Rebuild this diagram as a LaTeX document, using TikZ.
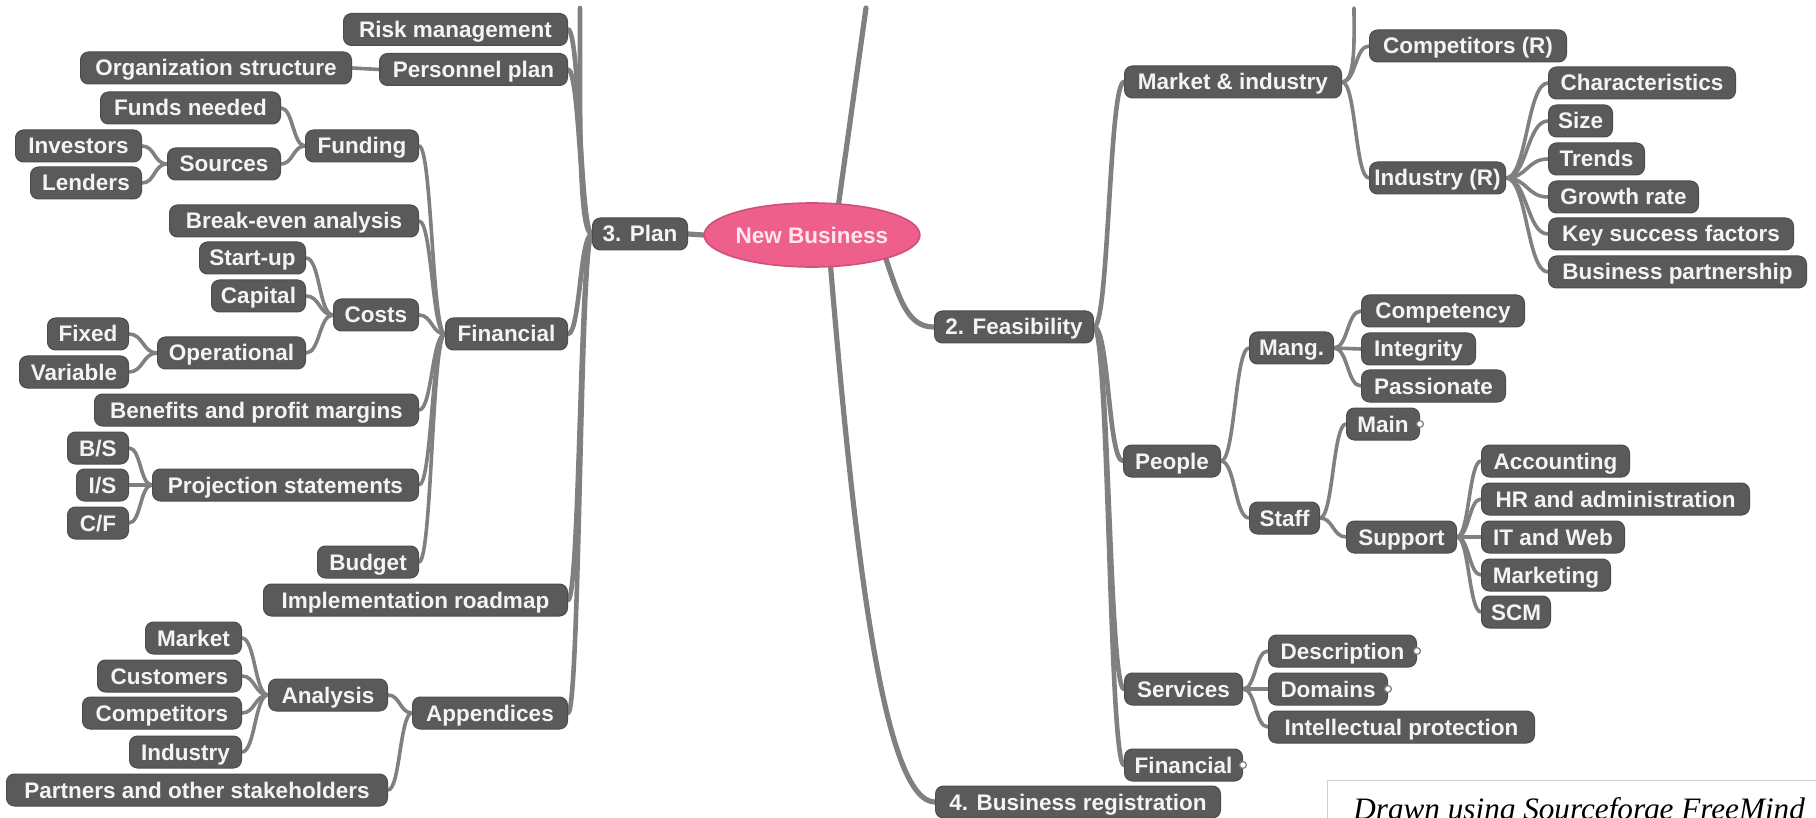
\documentclass[tikz,border=0pt]{standalone}
\usepackage{fontspec}
\setmainfont{Liberation Sans}
\newfontfamily\wmfont{Liberation Serif}
\usetikzlibrary{backgrounds,shapes.geometric}
\definecolor{boxfill}{HTML}{5A5A5A}
\definecolor{boxline}{HTML}{4C4C4C}
\definecolor{edgecol}{HTML}{808080}
\definecolor{rootfill}{HTML}{EE5F8C}
\definecolor{rootline}{HTML}{CF5079}
\definecolor{roottext}{HTML}{FDE6EF}
\definecolor{txt}{HTML}{F4F4F4}
\definecolor{wmline}{HTML}{D0D0D0}
\tikzset{
 mbox/.style={draw=boxline, line width=0.5pt, fill=boxfill, rounded corners=4pt, text=txt,
   font=\bfseries\fontsize{11.25}{13}\selectfont, minimum height=16pt, inner xsep=2pt,
   inner ysep=0pt, text height=10pt, text depth=2pt},
 lbox/.style={mbox, anchor=east},
 rbox/.style={mbox, anchor=west},
 edge/.style={draw=edgecol, line width=1.8pt, line cap=round},
 edgeA/.style={edge, line width=2.3pt},
 edgeR/.style={edge, line width=2.6pt},
 fold/.style={circle, draw=edgecol, fill=white, line width=0.6pt, inner sep=0pt, minimum size=3.4pt},
}
\newcommand{\LN}[5]{\node[lbox, minimum width=#4pt] (#1) at (#2,#3) {#5};}
\newcommand{\RN}[5]{\node[rbox, minimum width=#4pt] (#1) at (#2,#3) {#5};}
\newcommand{\LE}[4][edge]{\draw[#1] (#2.west) .. controls +(-#4,0) and +(#4,0) .. (#3.east);}
\newcommand{\RE}[4][edge]{\draw[#1] (#2.east) .. controls +(#4,0) and +(-#4,0) .. (#3.west);}
\begin{document}
\begin{tikzpicture}[x=0.5pt,y=-0.5pt]
\useasboundingbox (0,0) rectangle (1816,818);
\clip (0,0) rectangle (1816,818);
% root
\node[ellipse, draw=rootline, line width=0.8pt, fill=rootfill, text=roottext, inner sep=0pt,
  minimum width=97pt, minimum height=32pt, font=\bfseries\fontsize{11.25}{13}\selectfont] (root) at (812,235) {New Business};
\LN{plan}{688}{234}{47.5}{3. Plan}
% left side
\LN{riskm}{568}{29.5}{112}{Risk management}
\LN{perso}{568}{69.5}{94}{Personnel plan}
\LN{orgst}{352}{68}{135.5}{Organization structure}
\LN{fundn}{281}{108}{90}{Funds needed}
\LN{fundi}{419}{146}{56.5}{Funding}
\LN{sourc}{281}{164}{56.5}{Sources}
\LN{inves}{142}{146}{63}{Investors}
\LN{lende}{142}{183}{55.5}{Lenders}
\LN{break}{419}{221}{124.5}{Break-even analysis}
\LN{start}{306}{258}{53}{Start-up}
\LN{capit}{306}{296}{47}{Capital}
\LN{costs}{419}{315}{42.5}{Costs}
\LN{finL}{568}{334}{61}{Financial}
\LN{fixed}{129}{334}{40.5}{Fixed}
\LN{opera}{306}{353}{74}{Operational}
\LN{varia}{129}{372}{54.5}{Variable}
\LN{benef}{419}{410}{162}{Benefits and profit margins}
\LN{bs}{129}{448}{30.5}{B/S}
\LN{proje}{419}{485}{133}{Projection statements}
\LN{is}{129}{485}{26}{I/S}
\LN{cf}{129}{523}{30.5}{C/F}
\LN{budge}{419}{562}{50.5}{Budget}
\LN{imple}{568}{600}{152}{Implementation roadmap}
\LN{marke}{242}{638}{48}{Market}
\LN{custo}{242}{676}{72}{Customers}
\LN{analy}{388}{695}{59.5}{Analysis}
\LN{appen}{568}{713}{77.5}{Appendices}
\LN{compe}{242}{713}{79.5}{Competitors}
\LN{indus}{242}{752}{56}{Industry}
\LN{partn}{388}{790}{190.5}{Partners and other stakeholders}
% right side
\RN{feas}{934}{327}{79.5}{2. Feasibility}
\RN{breg}{935}{802}{142.5}{4. Business registration}
\RN{marki}{1124}{82}{108.5}{Market \& industry}
\RN{compR}{1369}{46}{98.5}{Competitors (R)}
\RN{indR}{1369}{178}{68}{Industry (R)}
\RN{chara}{1548}{83}{93.5}{Characteristics}
\RN{size}{1548}{121}{32}{Size}
\RN{trend}{1548}{159}{48}{Trends}
\RN{growt}{1548}{197}{75}{Growth rate}
\RN{keysu}{1548}{234}{122.5}{Key success factors}
\RN{busin}{1548}{272}{129}{Business partnership}
\RN{peopl}{1123}{461}{48.5}{People}
\RN{mang}{1249}{348}{42}{Mang.}
\RN{compt}{1361}{311}{81.5}{Competency}
\RN{integ}{1361}{349}{57}{Integrity}
\RN{passi}{1361}{386}{72}{Passionate}
\RN{staff}{1249}{518}{35}{Staff}
\RN{main}{1346}{424}{36.5}{Main}
\RN{suppo}{1346}{537}{55}{Support}
\RN{accou}{1481}{461}{74}{Accounting}
\RN{hradm}{1481}{499}{134}{HR and administration}
\RN{itweb}{1481}{537}{71.5}{IT and Web}
\RN{mktg}{1481}{575}{64.5}{Marketing}
\RN{scm}{1481}{612}{34.5}{SCM}
\RN{servi}{1124}{689}{59}{Services}
\RN{descr}{1268}{651}{74}{Description}
\RN{domai}{1268}{689}{59.5}{Domains}
\RN{intel}{1268}{727}{133}{Intellectual protection}
\RN{finR}{1124}{765}{59}{Financial}
% fold markers
\node[fold] (fmain) at (main.east) {};
\node[fold] (fdesc) at (descr.east) {};
\node[fold] (fdom) at (domai.east) {};
\node[fold] (ffin) at (finR.east) {};
% free ends of branches leaving the picture
\coordinate (rtop) at (866,8);
\coordinate (ptop) at (580,8);
\coordinate (mtop) at (1354,8);
% watermark
\node[draw=wmline, fill=white, line width=0.6pt, anchor=north west, minimum width=260pt, minimum height=40pt, inner sep=0pt] (wmbox) at (1327,780) {};
\node[anchor=base west, inner sep=0pt, font=\wmfont\itshape\fontsize{15.6}{18}\selectfont] (wmtext) at (1353,819) {Drawn using Sourceforge FreeMind};
\begin{pgfonlayer}{background}
\fill[white] (0,0) rectangle (1816,818);
% root edges
\draw[edgeR] (root.west) -- (plan.east);
\draw[edgeR] (root.50) -- (rtop);
\draw[edgeR] (root.-18) .. controls +(15,45) and +(-25,0) .. (feas.west);
\draw[edgeR] (root.-60) .. controls +(25,300) and +(-50,0) .. (breg.west);
% 3. Plan
\draw[edgeA] (plan.west) .. controls +(-13,0) and +(0,120) .. (ptop);
\LE[edgeA]{plan}{riskm}{12}
\LE[edgeA]{plan}{perso}{12}
\LE[edgeA]{plan}{finL}{12}
\LE[edgeA]{plan}{imple}{12}
\LE[edgeA]{plan}{appen}{12}
\LE{perso}{orgst}{14}
\LE{finL}{fundi}{13}
\LE{finL}{break}{13}
\LE{finL}{costs}{13}
\LE{finL}{benef}{13}
\LE{finL}{proje}{13}
\LE{finL}{budge}{13}
\LE{fundi}{fundn}{12}
\LE{fundi}{sourc}{12}
\LE{sourc}{inves}{13}
\LE{sourc}{lende}{13}
\LE{costs}{start}{14}
\LE{costs}{capit}{14}
\LE{costs}{opera}{14}
\LE{opera}{fixed}{14}
\LE{opera}{varia}{14}
\LE{proje}{bs}{12}
\LE{proje}{is}{12}
\LE{proje}{cf}{12}
\LE{appen}{analy}{12}
\LE{appen}{partn}{12}
\LE{analy}{marke}{13}
\LE{analy}{custo}{13}
\LE{analy}{compe}{13}
\LE{analy}{indus}{13}
% 2. Feasibility
\RE[edgeA]{feas}{marki}{15}
\RE[edgeA]{feas}{peopl}{15}
\RE[edgeA]{feas}{servi}{15}
\RE[edgeA]{feas}{finR}{15}
\draw[edge] (marki.east) .. controls +(14,0) and +(0,30) .. (mtop);
\RE{marki}{compR}{14}
\RE{marki}{indR}{14}
\RE{indR}{chara}{21}
\RE{indR}{size}{21}
\RE{indR}{trend}{21}
\RE{indR}{growt}{21}
\RE{indR}{keysu}{21}
\RE{indR}{busin}{21}
\RE{peopl}{mang}{14}
\RE{peopl}{staff}{14}
\RE{mang}{compt}{14}
\RE{mang}{integ}{14}
\RE{mang}{passi}{14}
\RE{staff}{main}{13}
\RE{staff}{suppo}{13}
\RE{suppo}{accou}{12}
\RE{suppo}{hradm}{12}
\RE{suppo}{itweb}{12}
\RE{suppo}{mktg}{12}
\RE{suppo}{scm}{12}
\RE{servi}{descr}{13}
\RE{servi}{domai}{13}
\RE{servi}{intel}{13}
\end{pgfonlayer}
\end{tikzpicture}
\end{document}
